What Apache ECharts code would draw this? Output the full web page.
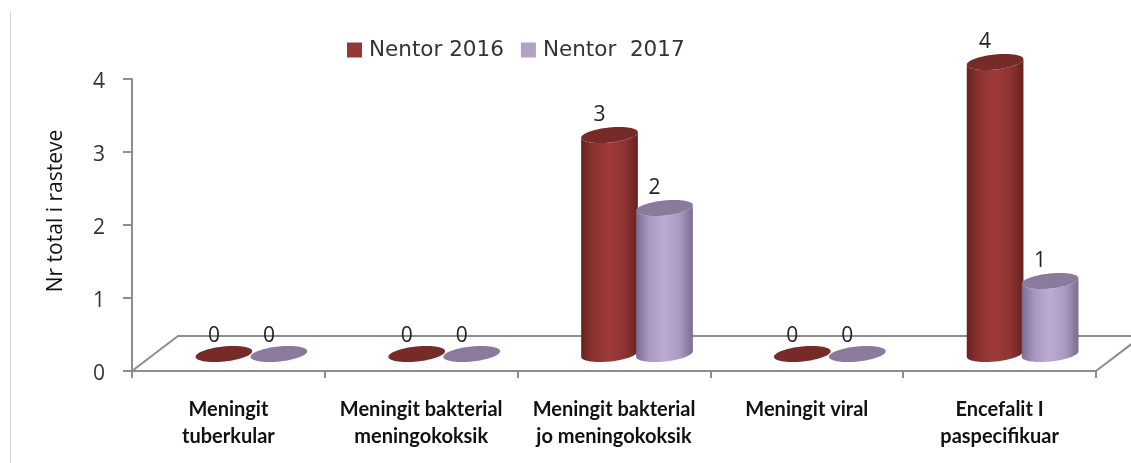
<!DOCTYPE html>
<html>
<head>
<meta charset="utf-8">
<style>
  html, body { margin: 0; padding: 0; background: #fff; }
  #chart { width: 1131px; height: 463px; }
</style>
<script src="https://cdn.jsdelivr.net/npm/echarts@6/dist/echarts.min.js"></script>
</head>
<body>
<div id="chart"></div>
<script>
var categories = [
  'Meningit\ntuberkular',
  'Meningit bakterial\nmeningokoksik',
  'Meningit bakterial\njo meningokoksik',
  'Meningit viral',
  'Encefalit I\npaspecifikuar'
];
var name2016 = 'Nentor 2016';
var name2017 = 'Nentor  2017';
var values2016 = [0, 0, 3, 0, 4];
var values2017 = [0, 0, 2, 0, 1];
var yTicks = { min: 0, max: 4, interval: 1 };

var axisColor = '#8e8e8e';
var textFont = '"Open Sans", "Noto Sans", sans-serif';

// fake 3d: the floor is shifted back from the axis, cylinders stand on it
var floorDx = 46, floorDy = 35;
var barDy = 17, rx = 28.5, ry = 7.5, tilt = 6 * Math.PI / 180;

var red = { legend: '#953735', top: '#772b29', edge: '#682120', soft: '#8c3331', mid: '#9e3b39' };
var purple = { legend: '#b3a2c7', top: '#8a7a9c', edge: '#7a6b90', soft: '#a898c0', mid: '#bdabd6' };

function ellipsePoint(cx, cy, t) {
  var ex = rx * Math.cos(t), ey = ry * Math.sin(t);
  return [
    cx + ex * Math.cos(tilt) + ey * Math.sin(tilt),
    cy - ex * Math.sin(tilt) + ey * Math.cos(tilt)
  ];
}

function cylinder(shift, pal) {
  return function (params, api) {
    var v = api.value(1);
    var p = api.coord([api.value(0), v]);
    var base = api.coord([api.value(0), 0]);
    var cx = p[0] + shift;
    var topY = p[1] - barDy;
    var baseY = base[1] - barDy;
    var children = [];
    if (v > 0) {
      var pts = [];
      var i;
      for (i = 0; i <= 40; i++) pts.push(ellipsePoint(cx, baseY, Math.PI * i / 40));
      for (i = 0; i <= 40; i++) pts.push(ellipsePoint(cx, topY, Math.PI - Math.PI * i / 40));
      children.push({
        type: 'polygon',
        shape: { points: pts },
        style: {
          fill: {
            type: 'linear', x: 0, y: 0, x2: 1, y2: 0,
            colorStops: [
              { offset: 0, color: pal.edge },
              { offset: 0.22, color: pal.soft },
              { offset: 0.5, color: pal.mid },
              { offset: 0.78, color: pal.soft },
              { offset: 1, color: pal.edge }
            ]
          }
        }
      });
    }
    var cap = [];
    for (var j = 0; j < 60; j++) cap.push(ellipsePoint(cx, topY, 2 * Math.PI * j / 60));
    children.push({ type: 'polygon', shape: { points: cap }, style: { fill: pal.top } });
    children.push({
      type: 'text',
      style: {
        text: String(v),
        x: cx - 10,
        y: topY - (v > 0 ? 20 : 18),
        align: 'center',
        verticalAlign: 'middle',
        fill: '#222',
        font: '21px ' + textFont
      }
    });
    return { type: 'group', children: children };
  };
}

function renderFloor(params) {
  var c = params.coordSys;
  var l = c.x, r = c.x + c.width, b = c.y + c.height;
  var line = { stroke: axisColor, lineWidth: 2, fill: null };
  return {
    type: 'group',
    children: [
      { type: 'polyline', shape: { points: [[l, b], [l + floorDx, b - floorDy], [r + floorDx, b - floorDy]] }, style: line },
      { type: 'polyline', shape: { points: [[r, b], [r + floorDx, b - floorDy]] }, style: line },
      { type: 'line', shape: { x1: r, y1: b, x2: r, y2: b + 7 }, style: line }
    ]
  };
}

function toPoints(arr) {
  return arr.map(function (v, i) { return [i, v]; });
}

var chart = echarts.init(document.getElementById('chart'));

chart.setOption({
  animation: false,
  backgroundColor: '#fff',
  graphic: [{
    type: 'line',
    shape: { x1: 10.5, y1: 11, x2: 10.5, y2: 463 },
    style: { stroke: '#d4d4d4', lineWidth: 1 }
  }],
  grid: { left: 132, right: 35, top: 79, bottom: 92 },
  legend: {
    data: [name2016, name2017],
    icon: 'rect',
    left: 342,
    top: 34,
    itemWidth: 15,
    itemHeight: 15,
    itemGap: 17,
    textStyle: {
      fontFamily: '"DejaVu Sans", sans-serif',
      fontSize: 21.5,
      color: '#333',
      padding: [4, 0, 0, 2]
    }
  },
  xAxis: {
    type: 'category',
    data: categories,
    axisLine: { lineStyle: { color: axisColor, width: 2 } },
    axisTick: { show: true, alignWithLabel: false, length: 7, lineStyle: { color: axisColor, width: 2 } },
    axisLabel: {
      interval: 0,
      margin: 25,
      fontFamily: 'Lato, "Open Sans", sans-serif',
      fontSize: 20,
      fontWeight: 'bold',
      lineHeight: 27,
      color: '#111'
    }
  },
  yAxis: {
    type: 'value',
    min: yTicks.min,
    max: yTicks.max,
    interval: yTicks.interval,
    splitLine: { show: false },
    name: 'Nr total i rasteve',
    nameLocation: 'middle',
    nameGap: 65,
    nameTextStyle: { fontFamily: textFont, fontSize: 21, color: '#111', padding: [0, 0, 0, 28] },
    axisLine: { show: true, lineStyle: { color: axisColor, width: 2 } },
    axisTick: { show: true, length: 9, lineStyle: { color: axisColor, width: 2 } },
    axisLabel: {
      margin: 27,
      formatter: '{n|{value}}',
      rich: { n: { fontFamily: textFont, fontSize: 21, color: '#333', padding: [6, 0, 0, 0] } }
    }
  },
  series: [
    { type: 'custom', name: 'floor', silent: true, z: 1, data: [[0, 0]], renderItem: renderFloor },
    {
      type: 'custom', name: name2016, z: 2,
      itemStyle: { color: red.legend },
      data: toPoints(values2016),
      renderItem: cylinder(-4.5, red)
    },
    {
      type: 'custom', name: name2017, z: 3,
      itemStyle: { color: purple.legend },
      data: toPoints(values2017),
      renderItem: cylinder(50.5, purple)
    }
  ]
});
</script>
</body>
</html>
